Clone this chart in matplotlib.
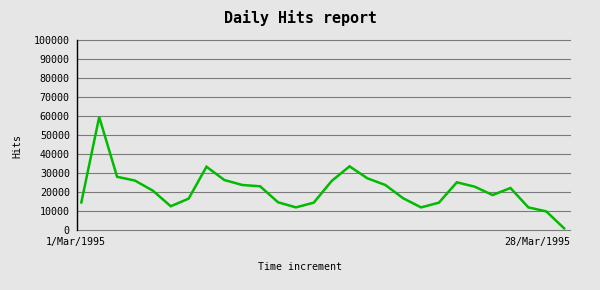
import matplotlib
matplotlib.use("Agg")
import matplotlib.pyplot as plt
import matplotlib.transforms as mtransforms

# Data
days = list(range(1, 29))
hits = [14500, 59500, 28000, 26000, 20700, 12500, 16500, 33300, 26300, 23700,
        23000, 14600, 11900, 14400, 25800, 33500, 27200, 23700, 16700, 11900,
        14400, 25100, 22800, 18400, 22100, 11900, 9800, 900]
y_ticks = list(range(0, 100001, 10000))
x_labels = ["1/Mar/1995", "28/Mar/1995"]

BG = "#e6e6e6"
GRID = "#7a7a7a"
GREEN = "#00bb00"
MONO = "DejaVu Sans Mono"

fig = plt.figure(figsize=(6, 2.9), dpi=100, facecolor=BG)
ax = fig.add_axes([76.5 / 600, 60 / 290, (570 - 76.5) / 600, 190 / 290])
ax.set_facecolor(BG)

ax.plot(days, hits, color=GREEN, linewidth=1.8, solid_joinstyle="miter",
        zorder=3, clip_on=False)

ax.set_ylim(0, 100000)
ax.set_xlim(days[0] - 0.27, days[-1] + 0.33)
ax.set_yticks(y_ticks)
ax.set_yticklabels([str(v) for v in y_ticks], fontfamily=MONO, fontsize=7.2)
ax.tick_params(axis="y", length=0, pad=4.8)
ax.set_xticks([])
for yv in y_ticks:
    ax.axhline(yv, color=GRID, linewidth=0.8, zorder=1, clip_on=False)

for side in ["top", "right", "bottom"]:
    ax.spines[side].set_visible(False)
ax.spines["left"].set_color("black")
ax.spines["left"].set_linewidth(1.0)
ax.spines["left"].set_zorder(4)

trans = mtransforms.blended_transform_factory(ax.transAxes, fig.transFigure)
ax.text(0.0 - 1 / 493.5, 1 - 242.3 / 290, x_labels[0], transform=trans,
        ha="center", va="center", fontfamily=MONO, fontsize=7.2)
ax.text(1.0, 1 - 242.3 / 290, x_labels[1], transform=trans,
        ha="right", va="center", fontfamily=MONO, fontsize=7.2)

fig.text(0.5, 1 - 18.3 / 290, "Daily Hits report", ha="center", va="center",
         fontfamily=MONO, fontweight="bold", fontsize=10.8)
fig.text(0.5, 1 - 267.3 / 290, "Time increment", ha="center", va="center",
         fontfamily=MONO, fontsize=7.2)
fig.text(17.5 / 600, 1 - 146 / 290, "Hits", ha="center", va="center",
         rotation=90, fontfamily=MONO, fontsize=7.2)

fig.savefig("out.png", dpi=100, facecolor=BG)
